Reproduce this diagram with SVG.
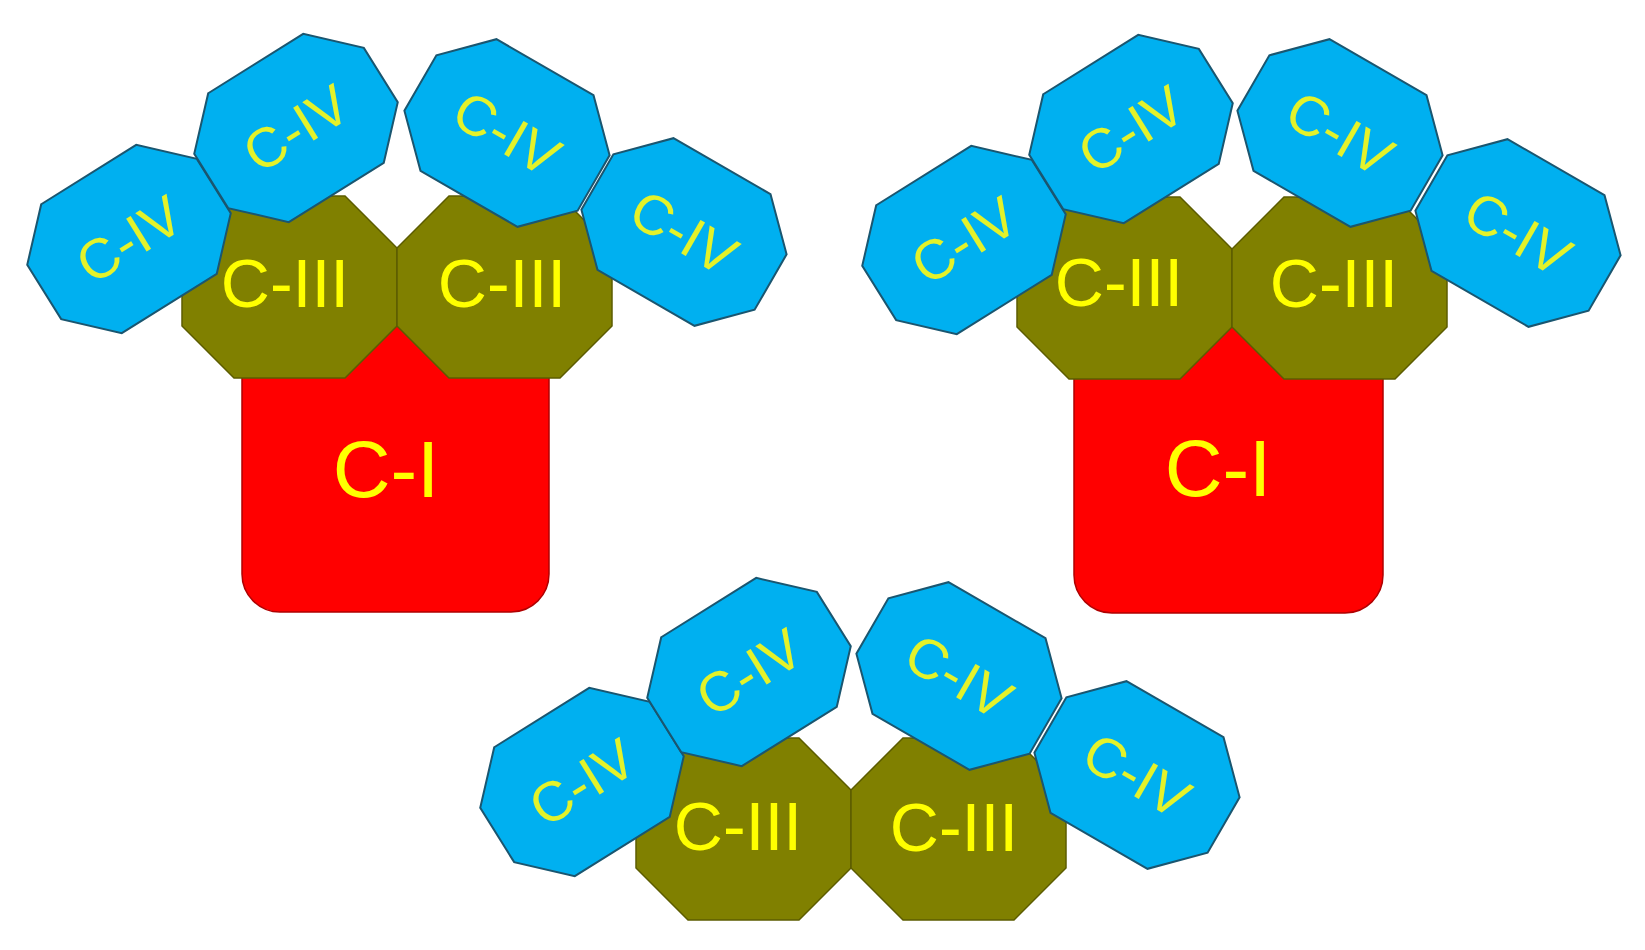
<svg xmlns="http://www.w3.org/2000/svg" width="1645" height="950" viewBox="0 0 1645 950">
  <style>
    .c1 { fill: #ff0000; stroke: #b00000; stroke-width: 1.5; }
    .c3 { fill: #808000; stroke: #5c5c00; stroke-width: 1.5; }
    .c4 { fill: #00b0f0; stroke: #1a5670; stroke-width: 2; }
    .t { font-family: "Liberation Sans", Arial, sans-serif; fill: #ffff00; text-anchor: middle; }
    .t1 { font-size: 80px; }
    .t3 { font-size: 68px; }
    .t4 { font-size: 56px; fill: #e4f22a; }
  </style>
  <defs>
    <polygon id="oct4" points="-56,-76 56,-76 100,-32 100,32 56,76 -56,76 -100,32 -100,-32"/>
    <polygon id="oct3" points="-55.5,-91 55.5,-91 107.5,-39 107.5,39 55.5,91 -55.5,91 -107.5,39 -107.5,-39"/>
  </defs>
  <rect width="1645" height="950" fill="#ffffff"/>

  <!-- Group 1 (top left) -->
  <g id="g1-ci"><rect class="c1" x="242" y="318" width="307" height="294" rx="38"/><text class="t t1" x="386" y="497">C-I</text></g>
  <g id="g1-ciii-l"><use href="#oct3" class="c3" transform="translate(289.5,287)"/><text class="t t3" x="285" y="307">C-III</text></g>
  <g id="g1-ciii-r"><use href="#oct3" class="c3" transform="translate(504.5,287)"/><text class="t t3" x="502" y="307">C-III</text></g>
  <g id="g1-civ-1"><g transform="translate(129,239) rotate(-32)"><use href="#oct4" class="c4"/><text class="t t4" x="0" y="20">C-IV</text></g></g>
  <g id="g1-civ-2"><g transform="translate(296,128) rotate(-32)"><use href="#oct4" class="c4"/><text class="t t4" x="0" y="20">C-IV</text></g></g>
  <g id="g1-civ-3"><g transform="translate(507,133) rotate(30)"><use href="#oct4" class="c4"/><text class="t t4" x="0" y="20">C-IV</text></g></g>
  <g id="g1-civ-4"><g transform="translate(684,232) rotate(30)"><use href="#oct4" class="c4"/><text class="t t4" x="0" y="20">C-IV</text></g></g>

  <!-- Group 2 (top right) -->
  <g id="g2-ci"><rect class="c1" x="1074" y="319" width="309" height="294" rx="38"/><text class="t t1" x="1218" y="496">C-I</text></g>
  <g id="g2-ciii-l"><use href="#oct3" class="c3" transform="translate(1124.5,288)"/><text class="t t3" x="1119" y="306">C-III</text></g>
  <g id="g2-ciii-r"><use href="#oct3" class="c3" transform="translate(1339.5,288)"/><text class="t t3" x="1334" y="307">C-III</text></g>
  <g id="g2-civ-1"><g transform="translate(964,240) rotate(-32)"><use href="#oct4" class="c4"/><text class="t t4" x="0" y="20">C-IV</text></g></g>
  <g id="g2-civ-2"><g transform="translate(1131,129) rotate(-32)"><use href="#oct4" class="c4"/><text class="t t4" x="0" y="20">C-IV</text></g></g>
  <g id="g2-civ-3"><g transform="translate(1340,133) rotate(30)"><use href="#oct4" class="c4"/><text class="t t4" x="0" y="20">C-IV</text></g></g>
  <g id="g2-civ-4"><g transform="translate(1518,233) rotate(30)"><use href="#oct4" class="c4"/><text class="t t4" x="0" y="20">C-IV</text></g></g>

  <!-- Group 3 (bottom) -->
  <g id="g3-ciii-l"><use href="#oct3" class="c3" transform="translate(743.5,829)"/><text class="t t3" x="738" y="850">C-III</text></g>
  <g id="g3-ciii-r"><use href="#oct3" class="c3" transform="translate(958.5,829)"/><text class="t t3" x="954" y="851">C-III</text></g>
  <g id="g3-civ-1"><g transform="translate(582,782) rotate(-32)"><use href="#oct4" class="c4"/><text class="t t4" x="0" y="20">C-IV</text></g></g>
  <g id="g3-civ-2"><g transform="translate(749,672) rotate(-32)"><use href="#oct4" class="c4"/><text class="t t4" x="0" y="20">C-IV</text></g></g>
  <g id="g3-civ-3"><g transform="translate(959,676) rotate(30)"><use href="#oct4" class="c4"/><text class="t t4" x="0" y="20">C-IV</text></g></g>
  <g id="g3-civ-4"><g transform="translate(1137,775) rotate(30)"><use href="#oct4" class="c4"/><text class="t t4" x="0" y="20">C-IV</text></g></g>

  <g id="connectors"/>
</svg>
